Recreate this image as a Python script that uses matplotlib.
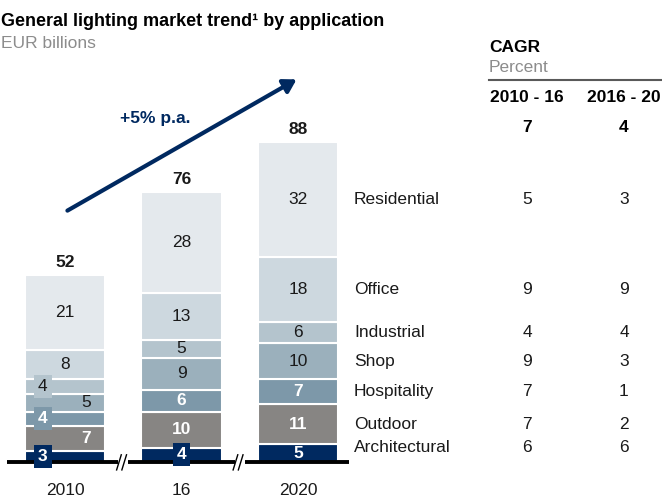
import matplotlib.pyplot as plt
import numpy as np
from matplotlib.patches import FancyArrowPatch

plt.rcParams['font.family'] = ['Liberation Sans', 'DejaVu Sans']

# Data
years = ['2010', '16', '2020']
segments = ['Architectural', 'Outdoor', 'Hospitality', 'Shop', 'Industrial', 'Office', 'Residential']
values = {
    'Architectural': [3, 4, 5],
    'Outdoor': [7, 10, 11],
    'Hospitality': [4, 6, 7],
    'Shop': [5, 9, 10],
    'Industrial': [4, 5, 6],
    'Office': [8, 13, 18],
    'Residential': [21, 28, 32],
}
totals = [52, 76, 88]
cagr_10_16 = [6, 7, 7, 9, 4, 9, 5]
cagr_16_20 = [6, 2, 1, 3, 4, 9, 3]
cagr_total = [7, 4]

colors = {
    'Architectural': '#002960',
    'Outdoor': '#878583',
    'Hospitality': '#7d98a9',
    'Shop': '#9bb0bc',
    'Industrial': '#b4c4cd',
    'Office': '#cdd8df',
    'Residential': '#e4e9ed',
}
white_text = ['Architectural', 'Outdoor', 'Hospitality']

W, H = 662, 497
fig = plt.figure(figsize=(W / 100, H / 100), dpi=100)
ax = fig.add_axes([0, 0, 1, 1])
ax.axis('off')

# map: 1 category unit = 116.5 px, 1 value unit = 3.6 px, baseline at 462 px
ax.set_xlim(-65 / 116.5, (W - 65) / 116.5)
ax.set_ylim(-(H - 462) / 3.6, 462 / 3.6)


def fx(px):
    return px / W


def fy(py):
    return 1 - py / H


x = np.arange(len(years))
width = 0.695
bottom = np.zeros(len(years))
mids = {}
for seg in segments:
    v = np.array(values[seg])
    ax.bar(x, v, width, bottom=bottom, color=colors[seg], edgecolor='white', linewidth=1.5)
    mids[seg] = bottom + v / 2
    bottom = bottom + v

# segment labels (small 2010 segments are shifted sideways)
shift_2010 = {'Architectural': -0.19, 'Outdoor': 0.18, 'Hospitality': -0.19,
              'Shop': 0.18, 'Industrial': -0.19}
boxed = {(0, 'Architectural'), (0, 'Hospitality'), (0, 'Industrial'), (1, 'Architectural')}
for seg in segments:
    for i in range(len(years)):
        xi = x[i] + (shift_2010.get(seg, 0) if i == 0 else 0)
        yi = mids[seg][i]
        wt = seg in white_text
        kw = dict(ha='center', va='center', fontsize=12.5,
                  color='white' if wt else '#1a1a1a',
                  fontweight='bold' if wt else 'normal')
        if (i, seg) in boxed:
            kw['bbox'] = dict(boxstyle='square,pad=0.24', fc=colors[seg], ec='none')
        ax.text(xi, yi, str(values[seg][i]), **kw)

# totals
for i, t in enumerate(totals):
    ax.text(x[i], bottom[i] + 3.4, str(t), ha='center', va='center',
            fontsize=12.5, fontweight='bold', color='#1a1a1a')

# year labels
for i, yl in enumerate(years):
    ax.text(x[i], -7.9, yl, ha='center', va='center', fontsize=12.5, color='#1a1a1a')

# baseline with breaks
breaks = [-0.5, 0.455, 0.545, 1.455, 1.545, 2.44]
for a, b in zip(breaks[0::2], breaks[1::2]):
    ax.plot([a, b], [0, 0], color='black', lw=2.8, solid_capstyle='butt')
for bx in [0.5, 1.5]:
    for d in [-0.045, 0.0]:
        ax.plot([bx + d - 0.012, bx + d + 0.028], [-2.2, 2.0], color='black', lw=1)

# growth arrow
arrow = FancyArrowPatch((fx(65), fy(212)), (fx(299), fy(78)), transform=fig.transFigure,
                        arrowstyle='-|>,head_length=5,head_width=3', color='#002960',
                        lw=3, mutation_scale=1.5)
fig.patches.append(arrow)
fig.text(fx(155), fy(118), '+5% p.a.', ha='center', va='center', fontsize=12.5,
         fontweight='bold', color='#002960')

# titles
fig.text(fx(1), fy(22), 'General lighting market trend\u00b9 by application', ha='left',
         va='center', fontsize=13, fontweight='bold', color='black')
fig.text(fx(1), fy(44), 'EUR billions', ha='left', va='center', fontsize=12.5, color='#8c8c8c')

# CAGR table
fig.text(fx(489), fy(47), 'CAGR', ha='left', va='center', fontsize=12.5,
         fontweight='bold', color='black')
fig.text(fx(489), fy(68), 'Percent', ha='left', va='center', fontsize=12.5, color='#8c8c8c')
fig.add_artist(plt.Line2D([fx(489), fx(662)], [fy(80), fy(80)], color='#595959', lw=1.5))
col1, col2 = fx(527), fx(624)
fig.text(col1, fy(98), '2010 - 16', ha='center', va='center', fontsize=12.5,
         fontweight='bold', color='black')
fig.text(col2, fy(98), '2016 - 20', ha='center', va='center', fontsize=12.5,
         fontweight='bold', color='black')
fig.text(col1, fy(127), str(cagr_total[0]), ha='center', va='center', fontsize=12.5,
         fontweight='bold', color='black')
fig.text(col2, fy(127), str(cagr_total[1]), ha='center', va='center', fontsize=12.5,
         fontweight='bold', color='black')

trans = ax.get_yaxis_transform()
for k, seg in enumerate(segments):
    yk = max(mids[seg][2], 3.9)
    ax.text(fx(354), yk, seg, transform=trans, ha='left', va='center', fontsize=12.5,
            color='#1a1a1a')
    ax.text(col1, yk, str(cagr_10_16[k]), transform=trans, ha='center', va='center',
            fontsize=12.5, color='#1a1a1a')
    ax.text(col2, yk, str(cagr_16_20[k]), transform=trans, ha='center', va='center',
            fontsize=12.5, color='#1a1a1a')

fig.savefig('out.png', dpi=100)
